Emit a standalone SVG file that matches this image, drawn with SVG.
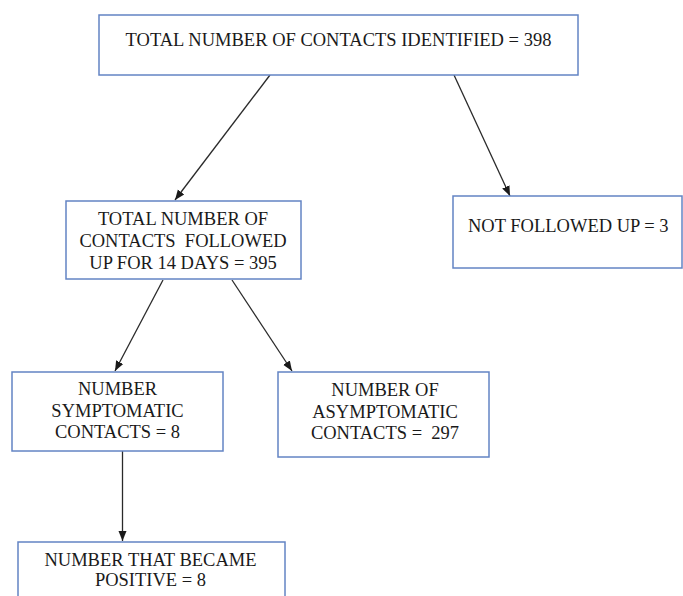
<svg xmlns="http://www.w3.org/2000/svg" width="683" height="596" viewBox="0 0 683 596">
<style>
.box{fill:#fff;stroke:#6384C4;stroke-width:1.5}
.t{font-family:"Liberation Serif","Times New Roman",serif;font-size:18.5px;fill:#1a1a1a}
.c{text-anchor:middle}
.ln{stroke:#2a2a2a;stroke-width:1.3;fill:none;marker-end:url(#ah)}
</style>
<defs>
<marker id="ah" markerUnits="userSpaceOnUse" markerWidth="10" markerHeight="10" viewBox="0 0 10 10" refX="10" refY="5" orient="auto">
<path d="M0,1 L10,5 L0,9 Z" fill="#1a1a1a"/>
</marker>
</defs>
<rect width="683" height="596" fill="#fff"/>
<g id="connectors">
<line class="ln" x1="270" y1="75" x2="175" y2="200"/>
<line class="ln" x1="454" y1="75" x2="510" y2="196"/>
<line class="ln" x1="163" y1="280" x2="115" y2="371"/>
<line class="ln" x1="232" y1="280" x2="292" y2="371"/>
<line class="ln" x1="122.5" y1="451" x2="122.5" y2="541"/>
</g>
<g id="n-total">
<rect class="box" x="99" y="15" width="479" height="60"/>
<text class="t c" x="338.5" y="46">TOTAL NUMBER OF CONTACTS IDENTIFIED = 398</text>
</g>
<g id="n-followed">
<rect class="box" x="66" y="201" width="235" height="78"/>
<text class="t c" x="183" y="225">TOTAL NUMBER OF</text>
<text class="t c" x="183" y="247" xml:space="preserve">CONTACTS  FOLLOWED</text>
<text class="t c" x="183" y="269">UP FOR 14 DAYS = 395</text>
</g>
<g id="n-notfollowed">
<rect class="box" x="453" y="196" width="229" height="72"/>
<text class="t" x="468" y="232">NOT FOLLOWED UP = 3</text>
</g>
<g id="n-symptomatic">
<rect class="box" x="12" y="372" width="211" height="79"/>
<text class="t c" x="117.5" y="395">NUMBER</text>
<text class="t c" x="117.5" y="417">SYMPTOMATIC</text>
<text class="t c" x="117.5" y="438">CONTACTS = 8</text>
</g>
<g id="n-asymptomatic">
<rect class="box" x="278" y="372" width="211" height="85"/>
<text class="t c" x="385" y="396">NUMBER OF</text>
<text class="t c" x="385" y="418">ASYMPTOMATIC</text>
<text class="t c" x="385" y="439" xml:space="preserve">CONTACTS =  297</text>
</g>
<g id="n-positive">
<rect class="box" x="18" y="542" width="267" height="70"/>
<text class="t c" x="150.5" y="566">NUMBER THAT BECAME</text>
<text class="t c" x="150.5" y="586">POSITIVE = 8</text>
</g>
</svg>
